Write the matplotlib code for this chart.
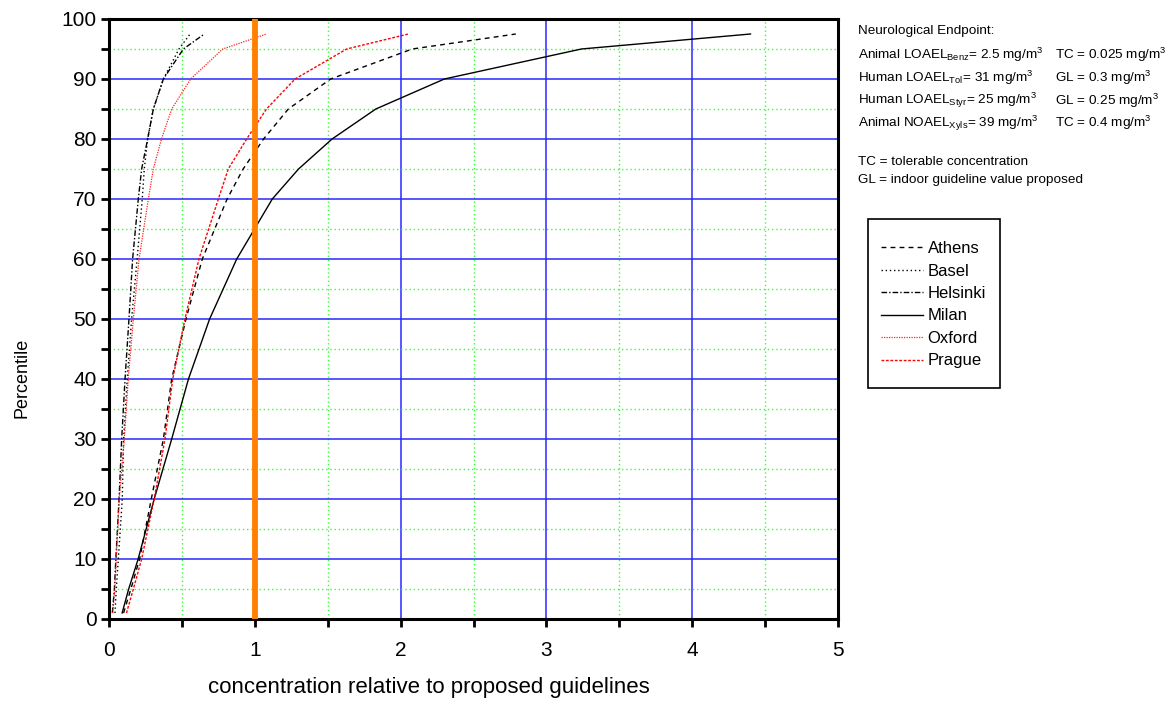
import numpy as np
import matplotlib
matplotlib.use("Agg")
import matplotlib.pyplot as plt
from matplotlib.patches import Rectangle
from matplotlib.ticker import MultipleLocator

plt.rcParams['font.family'] = ['Liberation Sans', 'DejaVu Sans']
plt.rcParams['mathtext.fontset'] = 'custom'
plt.rcParams['mathtext.rm'] = 'Liberation Sans'
plt.rcParams['mathtext.it'] = 'Liberation Sans'

# percentiles on the y axis
percentiles = [1, 5, 10, 20, 30, 40, 50, 60, 70, 75, 80, 85, 90, 95, 97.5]

# concentration relative to guideline, one list per city
athens = [0.10, 0.15, 0.21, 0.29, 0.373, 0.43, 0.528, 0.64, 0.81, 0.92, 1.06, 1.23, 1.52, 2.08, 2.79]
basel = [0.041, 0.05, 0.064, 0.091, 0.10, 0.125, 0.155, 0.193, 0.228, 0.242, 0.265, 0.304, 0.373, 0.48, 0.556]
helsinki = [0.023, 0.037, 0.047, 0.069, 0.087, 0.11, 0.137, 0.162, 0.201, 0.224, 0.265, 0.304, 0.373, 0.51, 0.654]
milan = [0.09, 0.135, 0.20, 0.31, 0.43, 0.545, 0.69, 0.876, 1.12, 1.30, 1.53, 1.83, 2.30, 3.24, 4.40]
oxford = [0.025, 0.04, 0.05, 0.07, 0.105, 0.132, 0.167, 0.206, 0.27, 0.304, 0.36, 0.43, 0.56, 0.78, 1.08]
prague = [0.12, 0.167, 0.224, 0.31, 0.384, 0.437, 0.521, 0.617, 0.75, 0.818, 0.944, 1.08, 1.276, 1.63, 2.053]

city_names = ["Athens", "Basel", "Helsinki", "Milan", "Oxford", "Prague"]

fig = plt.figure(figsize=(11.73, 7.02), dpi=100)
ax = fig.add_axes([109/1173, 1 - 619/702, (838 - 109)/1173, (619 - 19)/702])

ax.set_xlim(0, 5)
ax.set_ylim(0, 100)
ax.xaxis.set_major_locator(MultipleLocator(1))
ax.xaxis.set_minor_locator(MultipleLocator(0.5))
ax.yaxis.set_major_locator(MultipleLocator(10))
ax.yaxis.set_minor_locator(MultipleLocator(5))

ax.grid(which='major', color='#2828ff', linewidth=1.1, linestyle='-')
ax.grid(which='minor', color='#33ff33', linewidth=1.0, linestyle=(0, (1, 2)))
ax.set_axisbelow(True)

ax.plot(athens, percentiles, color='black', lw=1, linestyle=(0, (3.5, 3)), label=city_names[0])
ax.plot(basel, percentiles, color='black', lw=1, linestyle=(0, (1, 2)), label=city_names[1])
ax.plot(helsinki, percentiles, color='black', lw=1, linestyle=(0, (4, 1.5, 1, 1.5)), label=city_names[2])
ax.plot(milan, percentiles, color='black', lw=1, linestyle='-', label=city_names[3])
ax.plot(oxford, percentiles, color='#ff2020', lw=0.9, linestyle=(0, (1, 1)), label=city_names[4])
ax.plot(prague, percentiles, color='#ff0000', lw=1, linestyle=(0, (2, 1.2)), label=city_names[5])

ax.axvline(1, color='#ff8000', lw=4.2, zorder=5)

for s in ax.spines.values():
    s.set_linewidth(2.2)
ax.tick_params(which='both', direction='out', width=2, length=6, labelsize=15)
ax.tick_params(axis='x', pad=10)
ax.tick_params(axis='y', pad=3)

ax.set_xlabel("concentration relative to proposed guidelines", fontsize=16)
ax.xaxis.set_label_coords(0.439, -0.115)
ax.xaxis.label.set_verticalalignment('center')
ax.set_ylabel("Percentile", fontsize=13)
ax.yaxis.set_label_coords(-0.119, 0.402)
ax.yaxis.label.set_verticalalignment('center')

# annotation text on the right
fs = 9.7
fig.text(858/1173, 1 - 31/702, "Neurological Endpoint:", fontsize=fs, va='center')
rows_left = [
    r"Animal LOAEL$_{\mathrm{Benz}}$= 2.5 mg/m$^3$",
    r"Human LOAEL$_{\mathrm{Tol}}$= 31 mg/m$^3$",
    r"Human LOAEL$_{\mathrm{Styr}}$= 25 mg/m$^3$",
    r"Animal NOAEL$_{\mathrm{Xyls}}$= 39 mg/m$^3$",
]
rows_right = [
    r"TC = 0.025 mg/m$^3$",
    r"GL = 0.3 mg/m$^3$",
    r"GL = 0.25 mg/m$^3$",
    r"TC = 0.4 mg/m$^3$",
]
row_y = [55, 78, 100.5, 123]
for t1, t2, yy in zip(rows_left, rows_right, row_y):
    fig.text(858/1173, 1 - yy/702, t1, fontsize=fs, va='center')
    fig.text(1055/1173, 1 - yy/702, t2, fontsize=fs, va='center')
fig.text(858/1173, 1 - 162/702, "TC = tolerable concentration", fontsize=fs, va='center')
fig.text(858/1173, 1 - 180/702, "GL = indoor guideline value proposed", fontsize=fs, va='center')

# legend with a plain box
fig.patches.append(Rectangle((868/1173, 1 - 388/702), (1000 - 868)/1173, (388 - 219)/702,
                             transform=fig.transFigure, fill=False, edgecolor='black', lw=1.2))
fig.legend(loc='upper left', bbox_to_anchor=(881/1173, 1 - 241/702), frameon=False,
           fontsize=12, handlelength=2.5, handletextpad=0.3, labelspacing=0.45,
           borderpad=0, borderaxespad=0)

fig.savefig("out.png", dpi=100)
